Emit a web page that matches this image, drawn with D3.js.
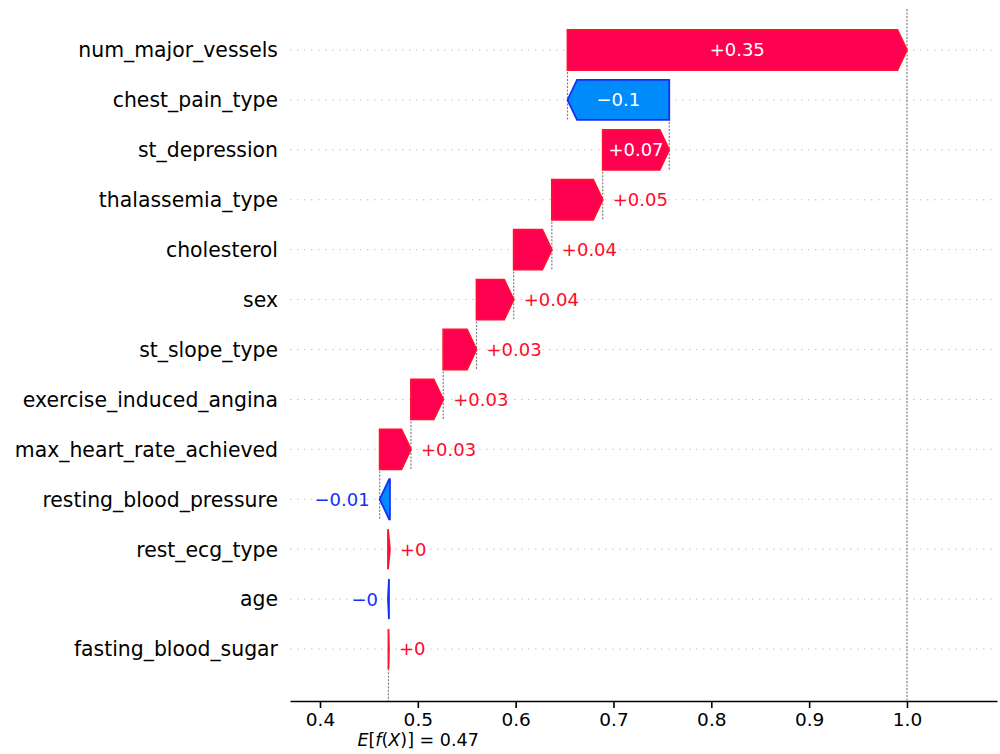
<!DOCTYPE html>
<html>
<head>
<meta charset="utf-8">
<script src="https://cdn.jsdelivr.net/npm/d3@7"></script>
<style>
  body { margin: 0; background: #fff; }
  text { font-family: "DejaVu Sans", sans-serif; }
</style>
</head>
<body>
<div id="chart"></div>
<script>
// SHAP waterfall data (top row first)
let features = ["num_major_vessels", "chest_pain_type", "st_depression", "thalassemia_type",
  "cholesterol", "sex", "st_slope_type", "exercise_induced_angina", "max_heart_rate_achieved",
  "resting_blood_pressure", "rest_ecg_type", "age", "fasting_blood_sugar"];
let shapValues = [0.347, -0.104, 0.068, 0.052, 0.039, 0.038, 0.034, 0.033, 0.032,
  -0.0105, 0.002, -0.001, 0.0005];
let baseValue = 0.47;
let tickValues = [0.4, 0.5, 0.6, 0.7, 0.8, 0.9, 1.0];

let svgWidth = 1000;
let svgHeight = 754;

let posFill = "#ff0051", posEdge = "#ff1030", posText = "#ff0a2a";
let negFill = "#008bfb", negEdge = "#1630f5", negText = "#1630f5";

let svg = d3.select("#chart")
  .append("svg")
  .attr("width", svgWidth)
  .attr("height", svgHeight)
  .style("background", "#fff");

// scales
let x = d3.scaleLinear().domain([0.36934, 1.09202]).range([290, 997]);
let y = d3.scaleLinear().domain([0, features.length - 1]).range([50, 649]);
let plotTop = 9, plotBottom = 701;
let barH = 40;
let headPx = 9.5;

// running totals, bottom row starts at the base value
let starts = new Array(features.length);
let ends = new Array(features.length);
let loc = baseValue;
for (let i = features.length - 1; i >= 0; i--) {
  starts[i] = loc;
  loc += shapValues[i];
  ends[i] = loc;
}
let fx = ends[0];

function fmt(v) {
  let s = Math.abs(v).toFixed(2).replace(/0+$/, "").replace(/\.$/, "");
  return (v >= 0 ? "+" : "\u2212") + s;
}

// horizontal dotted grid
svg.append("g").selectAll("line")
  .data(features)
  .enter().append("line")
  .attr("x1", 290).attr("x2", 997)
  .attr("y1", (d, i) => y(i)).attr("y2", (d, i) => y(i))
  .attr("stroke", "#c4c4c4")
  .attr("stroke-width", 1)
  .attr("stroke-dasharray", "1.5,5.5");

// vertical connectors
let conn = svg.append("g")
  .attr("stroke", "#808080")
  .attr("stroke-width", 1.2)
  .attr("stroke-dasharray", "2,1.5");

features.forEach(function(f, i) {
  if (i + 4 < features.length) {
    conn.append("line")
      .attr("x1", x(starts[i])).attr("x2", x(starts[i]))
      .attr("y1", y(i) - barH / 2).attr("y2", y(i + 1) + barH / 2);
  }
});
conn.append("line")
  .attr("x1", x(fx)).attr("x2", x(fx))
  .attr("y1", plotTop).attr("y2", plotBottom);
conn.append("line")
  .attr("x1", x(baseValue)).attr("x2", x(baseValue))
  .attr("y1", plotBottom - (plotBottom - plotTop) / features.length).attr("y2", plotBottom);

// arrows
function arrowPoints(i) {
  let x0 = x(starts[i]), x1 = x(ends[i]);
  let dir = x1 >= x0 ? 1 : -1;
  let hl = Math.min(headPx, Math.abs(x1 - x0));
  let yc = y(i), t = yc - barH / 2, b = yc + barH / 2;
  let xh = x1 - dir * hl;
  return [[x0, t], [xh, t], [x1, yc], [xh, b], [x0, b]].map(p => p.join(",")).join(" ");
}

svg.append("g").selectAll("polygon")
  .data(features)
  .enter().append("polygon")
  .attr("points", (d, i) => arrowPoints(i))
  .attr("fill", (d, i) => shapValues[i] >= 0 ? posFill : negFill)
  .attr("stroke", (d, i) => shapValues[i] >= 0 ? posEdge : negEdge)
  .attr("stroke-width", 1.8)
  .attr("stroke-linejoin", "miter");

// value labels
let labels = svg.append("g");
features.forEach(function(f, i) {
  let v = shapValues[i];
  let x0 = x(starts[i]), x1 = x(ends[i]);
  let t = labels.append("text")
    .attr("y", y(i))
    .attr("dy", "0.36em")
    .attr("font-size", 18)
    .text(fmt(v));
  let w = t.node().getComputedTextLength();
  if (Math.abs(x1 - x0) > w + 4) {
    t.attr("x", (x0 + x1) / 2).attr("text-anchor", "middle").attr("fill", "#fff");
  } else if (v >= 0) {
    t.attr("x", x1 + 10).attr("text-anchor", "start").attr("fill", posText);
  } else {
    t.attr("x", x1 - 10).attr("text-anchor", "end").attr("fill", negText);
  }
});

// feature names
svg.append("g").selectAll("text")
  .data(features)
  .enter().append("text")
  .attr("x", 278)
  .attr("y", (d, i) => y(i))
  .attr("dy", "0.36em")
  .attr("text-anchor", "end")
  .attr("font-size", 20.4)
  .attr("fill", "#000")
  .text(d => d);

// bottom axis
let bottomAxis = d3.axisBottom(x)
  .tickValues(tickValues)
  .tickFormat(d3.format(".1f"))
  .tickSize(7)
  .tickSizeOuter(0)
  .tickPadding(5);

let axisG = svg.append("g")
  .attr("transform", "translate(0," + plotBottom + ")")
  .call(bottomAxis);
axisG.select(".domain").attr("stroke", "#000").attr("stroke-width", 1.6);
axisG.selectAll(".tick line").attr("stroke", "#000").attr("stroke-width", 1.6);
axisG.selectAll(".tick text")
  .attr("font-size", 18.5)
  .attr("font-family", "DejaVu Sans, sans-serif")
  .attr("fill", "#000");

// E[f(X)] label
let eText = svg.append("text")
  .attr("x", x(baseValue) - 31)
  .attr("y", 746)
  .attr("font-size", 17.5)
  .attr("fill", "#000");
[["E", true], ["[", false], ["f", true], ["(", false], ["X", true], [")]", false], [" = " + baseValue.toFixed(2), false]]
  .forEach(function(p) {
    eText.append("tspan")
      .attr("font-style", p[1] ? "italic" : "normal")
      .text(p[0]);
  });
</script>
</body>
</html>
